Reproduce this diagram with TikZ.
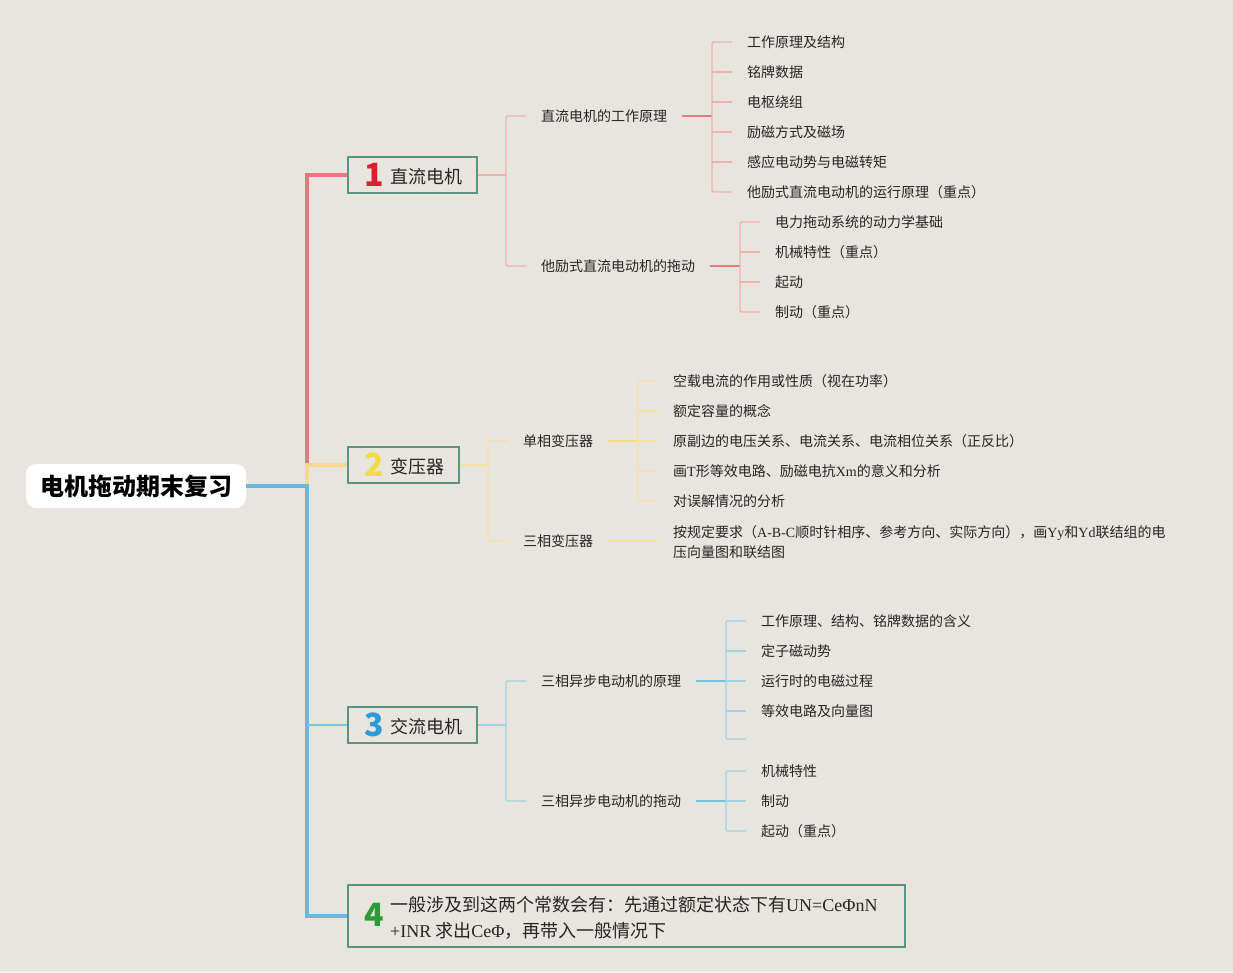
\documentclass[tikz,border=0pt]{standalone}
\usepackage{fontspec}
\setmainfont{Noto Sans CJK SC}
\newfontfamily\lat{Liberation Serif}
\newcommand\La[1]{{\lat #1}}
\definecolor{bgc}{HTML}{E8E5DE}
\definecolor{txt}{HTML}{262626}
\definecolor{boxc}{HTML}{5B9484}
\definecolor{redT}{HTML}{E8787E}
\definecolor{redL}{HTML}{F0B0B0}
\definecolor{yelT}{HTML}{F7D98C}
\definecolor{yelL}{HTML}{F6E0A8}
\definecolor{bluT}{HTML}{6CB6E0}
\definecolor{bluL}{HTML}{A0D4E2}
\definecolor{bluM}{HTML}{74C6DC}
\definecolor{n1}{HTML}{D9202E}
\definecolor{n2}{HTML}{F3DB45}
\definecolor{n3}{HTML}{2B9BDA}
\definecolor{n4}{HTML}{2E9A34}
\tikzset{
  rootbox/.style={fill=white, rounded corners=10pt, minimum width=220pt, minimum height=44pt, inner sep=0pt, text=black, font=\bfseries\fontsize{24}{26}\selectfont},
  mainbox/.style={draw=boxc, line width=1.6pt, anchor=west, minimum height=36pt, inner sep=0pt},
  numtxt/.style={inner sep=0pt, font=\bfseries\fontsize{32}{32}\selectfont},
  boxtxt/.style={anchor=west, inner sep=0pt, yshift=-1pt, text=txt, font=\fontsize{18}{20}\selectfont},
  lvtxt/.style={anchor=west, inner sep=0pt, yshift=-1pt, text=txt, font=\fontsize{14}{16}\selectfont},
  trunk/.style={line width=3.6pt},
  lite/.style={line width=1.4pt, rounded corners=2pt},
  strong/.style={line width=2pt}
}
\begin{document}
\begin{tikzpicture}[x=1pt,y=-1pt]
\fill[bgc] (0,0) rectangle (1233,972);
\useasboundingbox (0,0) rectangle (1233,972);

% root
\node[rootbox] (root) at (136,486) {电机拖动期末复习};

% main boxes
\node[mainbox, minimum width=129pt] (b1) at (347,175) {};
\node[mainbox, minimum width=111pt] (b2) at (347,465) {};
\node[mainbox, minimum width=129pt] (b3) at (347,725) {};
\node[mainbox, minimum width=557pt, minimum height=62pt] (b4) at (347,916) {};

\node[numtxt, text=n1] (k1) at (374,175) {1};
\node[boxtxt] (t1) at (390,176) {直流电机};
\node[numtxt, text=n2] (k2) at (374,465) {2};
\node[boxtxt] (t2) at (390,466) {变压器};
\node[numtxt, text=n3] (k3) at (374,725) {3};
\node[boxtxt] (t3) at (390,726) {交流电机};
\node[numtxt, text=n4] (k4) at (374,915) {4};
\node[boxtxt, align=left, font=\fontsize{18}{26}\selectfont] (t4) at (390,917)
  {一般涉及到这两个常数会有：先通过额定状态下有\La{UN=CeΦnN}\\\La{+INR} 求出\La{CeΦ}，再带入一般情况下};

% trunk
\coordinate (J) at (307,486);
\coordinate (JR) at (307,463);
\draw[trunk, yelT] (b2.west) -| (J);
\draw[trunk, redT] (b1.west) -| (JR);
\draw[trunk, bluT] (root.east) -- (J) |- (b4.west);
\draw[line width=2pt, bluM] (J |- b3.west) -- (b3.west);

% ---------- branch 1 ----------
\node[lvtxt] (a1) at (541,115) {直流电机的工作原理};
\node[lvtxt] (a2) at (541,265) {他励式直流电动机的拖动};
\draw[lite, redL] (b1.east) -- ([xshift=-35pt]a1.west |- b1.east);
\draw[lite, redL] ([xshift=-15pt]a1.west) -- ([xshift=-35pt]a1.west) -- ([xshift=-35pt]a2.west) -- ([xshift=-15pt]a2.west);

\foreach \i/\y/\t in {1/41/工作原理及结构, 2/71/铭牌数据, 3/101/电枢绕组, 4/131/励磁方式及磁场, 5/161/感应电动势与电磁转矩, 6/191/他励式直流电动机的运行原理（重点）}
  \node[lvtxt] (aa\i) at (747,\y) {\t};
\draw[strong, redT] ([xshift=15pt]a1.east) -- ([xshift=-35pt]aa1.west |- a1.east);
\draw[lite, redL] ([xshift=-15pt]aa1.west) -- ([xshift=-35pt]aa1.west) -- ([xshift=-35pt]aa6.west) -- ([xshift=-15pt]aa6.west);
\foreach \i in {2,3,4,5}
  \draw[lite, redL] ([xshift=-35pt]aa\i.west) -- ([xshift=-15pt]aa\i.west);

\foreach \i/\y/\t in {1/221/电力拖动系统的动力学基础, 2/251/机械特性（重点）, 3/281/起动, 4/311/制动（重点）}
  \node[lvtxt] (ab\i) at (775,\y) {\t};
\draw[strong, redT] ([xshift=15pt]a2.east) -- ([xshift=-35pt]ab1.west |- a2.east);
\draw[lite, redL] ([xshift=-15pt]ab1.west) -- ([xshift=-35pt]ab1.west) -- ([xshift=-35pt]ab4.west) -- ([xshift=-15pt]ab4.west);
\foreach \i in {2,3}
  \draw[lite, redL] ([xshift=-35pt]ab\i.west) -- ([xshift=-15pt]ab\i.west);

% ---------- branch 2 ----------
\node[lvtxt] (c1) at (523,440) {单相变压器};
\node[lvtxt] (c2) at (523,540) {三相变压器};
\draw[lite, yelL] (b2.east) -- ([xshift=-35pt]c1.west |- b2.east);
\draw[lite, yelL] ([xshift=-15pt]c1.west) -- ([xshift=-35pt]c1.west) -- ([xshift=-35pt]c2.west) -- ([xshift=-15pt]c2.west);

\foreach \i/\y/\t in {1/380/空载电流的作用或性质（视在功率）, 2/410/额定容量的概念, 3/440/原副边的电压关系、电流关系、电流相位关系（正反比）, 4/470/画\La{T}形等效电路、励磁电抗\La{Xm}的意义和分析, 5/500/对误解情况的分析}
  \node[lvtxt] (ca\i) at (673,\y) {\t};
\draw[strong, yelT] ([xshift=15pt]c1.east) -- ([xshift=-35pt]ca1.west |- c1.east);
\draw[lite, yelL] ([xshift=-15pt]ca1.west) -- ([xshift=-35pt]ca1.west) -- ([xshift=-35pt]ca5.west) -- ([xshift=-15pt]ca5.west);
\foreach \i in {2,3,4}
  \draw[lite, yelL] ([xshift=-35pt]ca\i.west) -- ([xshift=-15pt]ca\i.west);

\node[lvtxt, align=left, font=\fontsize{14}{20}\selectfont] (cb1) at (673,541)
  {按规定要求（\La{A-B-C}顺时针相序、参考方向、实际方向），画\La{Yy}和\La{Yd}联结组的电\\压向量图和联结图};
\draw[lite, yelL] ([xshift=15pt]c2.east) -- ([xshift=-15pt]cb1.west |- c2.east);

% ---------- branch 3 ----------
\node[lvtxt] (d1) at (541,680) {三相异步电动机的原理};
\node[lvtxt] (d2) at (541,800) {三相异步电动机的拖动};
\draw[lite, bluL] (b3.east) -- ([xshift=-35pt]d1.west |- b3.east);
\draw[lite, bluL] ([xshift=-15pt]d1.west) -- ([xshift=-35pt]d1.west) -- ([xshift=-35pt]d2.west) -- ([xshift=-15pt]d2.west);

\foreach \i/\y/\t in {1/620/工作原理、结构、铭牌数据的含义, 2/650/定子磁动势, 3/680/运行时的电磁过程, 4/710/等效电路及向量图}
  \node[lvtxt] (da\i) at (761,\y) {\t};
\coordinate (da5) at (761,739);
\draw[strong, bluM] ([xshift=15pt]d1.east) -- ([xshift=-35pt]da1.west |- d1.east);
\draw[lite, bluL] ([xshift=-15pt]da1.west) -- ([xshift=-35pt]da1.west) -- ([xshift=-35pt]da5) -- ([xshift=-15pt]da5);
\foreach \i in {2,3,4}
  \draw[lite, bluL] ([xshift=-35pt]da\i.west) -- ([xshift=-15pt]da\i.west);

\foreach \i/\y/\t in {1/770/机械特性, 2/800/制动, 3/830/起动（重点）}
  \node[lvtxt] (db\i) at (761,\y) {\t};
\draw[strong, bluM] ([xshift=15pt]d2.east) -- ([xshift=-35pt]db1.west |- d2.east);
\draw[lite, bluL] ([xshift=-15pt]db1.west) -- ([xshift=-35pt]db1.west) -- ([xshift=-35pt]db3.west) -- ([xshift=-15pt]db3.west);
\draw[lite, bluL] ([xshift=-35pt]db2.west) -- ([xshift=-15pt]db2.west);
\end{tikzpicture}
\end{document}
